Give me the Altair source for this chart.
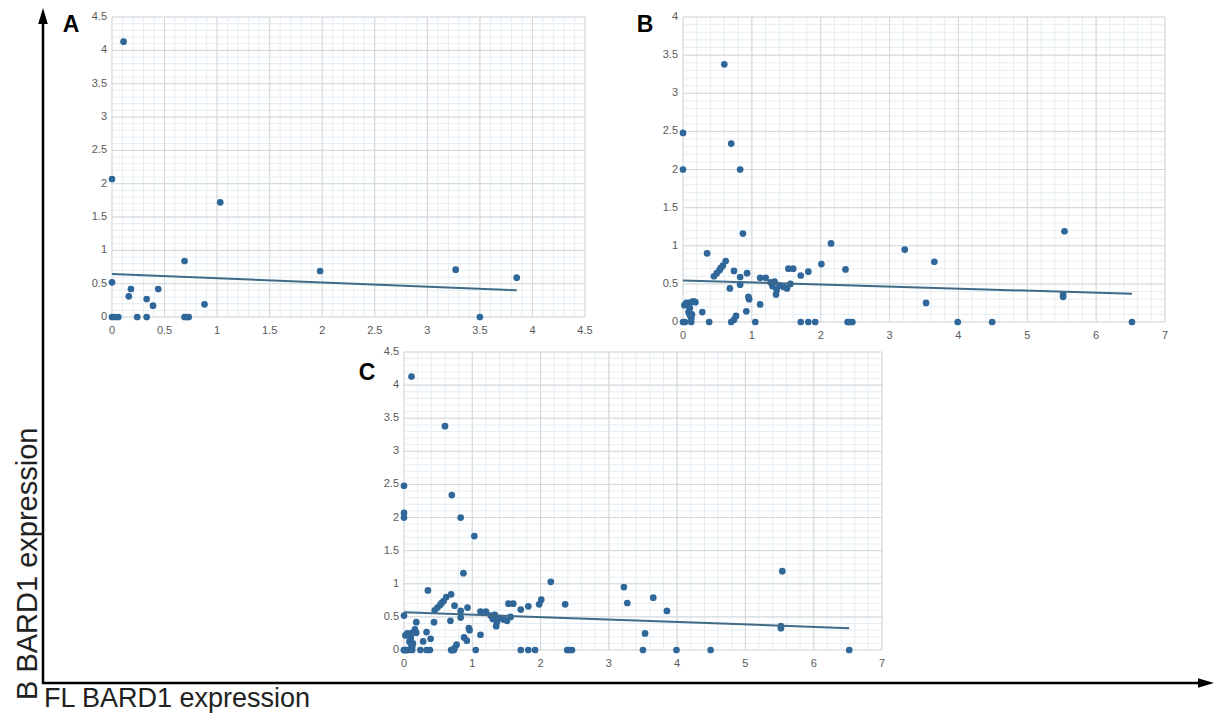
import altair as alt
import pandas as pd

# ---------------- data ----------------
# Panel A
a_fl = [0.00, 0.03, 0.06, 0.11, 0.00, 0.00, 1.03, 0.69, 0.16, 0.18, 0.24, 0.33,
        0.33, 0.39, 0.44, 0.69, 0.71, 0.73, 0.88, 1.98, 3.27, 3.50, 3.85]
a_b = [0.00, 0.00, 0.00, 4.13, 2.07, 0.52, 1.72, 0.84, 0.31, 0.42, 0.00, 0.27,
       0.00, 0.17, 0.42, 0.00, 0.00, 0.00, 0.19, 0.69, 0.71, 0.00, 0.59]

# Panel B
b_fl = [0.00, 0.00, 0.60, 0.70, 0.83, 0.87, 0.35, 2.15, 3.22, 3.65, 5.54, 5.52,
        5.52, 3.53, 2.01, 2.36, 1.82, 1.71, 1.53, 1.60, 1.56, 1.51, 1.12, 1.20,
        1.27, 1.30, 1.33, 1.36, 1.35, 1.40, 1.46, 1.12, 0.95, 0.96, 0.92, 0.93,
        0.83, 0.83, 0.74, 0.68, 0.45, 0.49, 0.53, 0.55, 0.58, 0.62, 0.77, 0.74,
        0.28, 0.02, 0.05, 0.08, 0.10, 0.12, 0.15, 0.18, 0.13, 0.12, 0.08, 0.10,
        0.00, 0.03, 0.12, 0.38, 0.70, 1.05, 1.71, 1.82, 1.92, 2.39, 2.42, 2.46,
        3.99, 4.49, 6.52]
b_b = [2.48, 2.00, 3.38, 2.34, 2.00, 1.16, 0.90, 1.03, 0.95, 0.79, 1.19, 0.33,
       0.36, 0.25, 0.76, 0.69, 0.66, 0.61, 0.70, 0.70, 0.50, 0.44, 0.58, 0.58,
       0.52, 0.47, 0.53, 0.42, 0.36, 0.48, 0.46, 0.23, 0.33, 0.30, 0.14, 0.64,
       0.59, 0.49, 0.67, 0.44, 0.60, 0.64, 0.68, 0.71, 0.74, 0.80, 0.08, 0.03,
       0.13, 0.22, 0.25, 0.22, 0.18, 0.26, 0.27, 0.26, 0.10, 0.05, 0.13, 0.09,
       0.00, 0.00, 0.00, 0.00, 0.00, 0.00, 0.00, 0.00, 0.00, 0.00, 0.00, 0.00,
       0.00, 0.00, 0.00]

# Panel C = A and B together
c_fl = a_fl + b_fl
c_b = a_b + b_b

# trend lines (end points)
trend_a_fl, trend_a_b = [0.0, 3.85], [0.645, 0.40]
trend_b_fl, trend_b_b = [0.0, 6.52], [0.545, 0.37]
trend_c_fl, trend_c_b = [0.0, 6.52], [0.57, 0.33]

# tick labels
a_x_ticks = [0, 0.5, 1, 1.5, 2, 2.5, 3, 3.5, 4, 4.5]
a_y_ticks = [0, 0.5, 1, 1.5, 2, 2.5, 3, 3.5, 4, 4.5]
b_x_ticks = [0, 1, 2, 3, 4, 5, 6, 7]
b_y_ticks = [0, 0.5, 1, 1.5, 2, 2.5, 3, 3.5, 4]
c_x_ticks = [0, 1, 2, 3, 4, 5, 6, 7]
c_y_ticks = [0, 0.5, 1, 1.5, 2, 2.5, 3, 3.5, 4, 4.5]

x_title = "FL BARD1 expression"
y_title = "B BARD1 expression"

# ---------------- layout & style ----------------
W, H = 1217, 713
FONT = "Liberation Sans"
PT = "#2f6799"
TREND = "#3f6b88"
MAJOR = "#d4d8db"
MINOR = "#e6eef3"
LABEL = "#595959"

# pixel extents of each plot area: (x range, y range)
GEOM = {
    "A": ([112, 585], [317, 17]),
    "B": ([683, 1165], [322, 17]),
    "C": ([404, 882], [650, 352]),
}
LETTER_POS = {"A": (71, 25), "B": (645, 25), "C": (367, 373)}

one = pd.DataFrame({"k": [0]})


def steps(lo, hi, step):
    n = int(round((hi - lo) / step))
    return [round(lo + i * step, 3) for i in range(n + 1)]


def panel(name, fl, b, tfl, tb, xt, yt, xstep, ystep):
    xr, yr = GEOM[name]
    pts = pd.DataFrame({"fl": fl, "b": b})
    tr = pd.DataFrame({"fl": tfl, "b": tb})
    xs = alt.Scale(domain=[xt[0], xt[-1]], range=xr, nice=False, zero=False)
    ys = alt.Scale(domain=[yt[0], yt[-1]], range=yr, nice=False, zero=False)

    def vgrid(vals, color):
        return alt.Chart(pd.DataFrame({"v": vals})).mark_rule(
            color=color, strokeWidth=1).encode(
            x=alt.X("v:Q", scale=xs, axis=None),
            y=alt.value(yr[1]), y2=alt.value(yr[0]))

    def hgrid(vals, color):
        return alt.Chart(pd.DataFrame({"v": vals})).mark_rule(
            color=color, strokeWidth=1).encode(
            y=alt.Y("v:Q", scale=ys, axis=None),
            x=alt.value(xr[0]), x2=alt.value(xr[1]))

    xlab = alt.Chart(pd.DataFrame({"v": xt})).mark_text(
        font=FONT, fontSize=11, color=LABEL, align="center", baseline="top"
    ).encode(
        x=alt.X("v:Q", scale=xs, axis=None),
        y=alt.value(yr[0] + 8),
        text=alt.Text("v:Q", format="~g"),
    )
    ylab = alt.Chart(pd.DataFrame({"v": yt})).mark_text(
        font=FONT, fontSize=11, color=LABEL, align="right", baseline="middle"
    ).encode(
        y=alt.Y("v:Q", scale=ys, axis=None),
        x=alt.value(xr[0] - 5),
        text=alt.Text("v:Q", format="~g"),
    )
    dots = alt.Chart(pts).mark_circle(size=45, color=PT, opacity=1).encode(
        x=alt.X("fl:Q", scale=xs, axis=None),
        y=alt.Y("b:Q", scale=ys, axis=None),
    )
    line = alt.Chart(tr).mark_line(color=TREND, strokeWidth=2).encode(
        x=alt.X("fl:Q", scale=xs, axis=None),
        y=alt.Y("b:Q", scale=ys, axis=None),
    )
    lx, ly = LETTER_POS[name]
    letter = alt.Chart(one).mark_text(
        text=name, font=FONT, fontSize=23, fontWeight="bold", color="black",
        align="center", baseline="middle"
    ).encode(x=alt.value(lx), y=alt.value(ly))
    return alt.layer(
        vgrid(steps(xt[0], xt[-1], xstep), MINOR),
        hgrid(steps(yt[0], yt[-1], ystep), MINOR),
        vgrid(xt, MAJOR),
        hgrid(yt, MAJOR),
        xlab, ylab, dots, line, letter,
    )


A = panel("A", a_fl, a_b, trend_a_fl, trend_a_b, a_x_ticks, a_y_ticks, 0.1, 0.1)
B = panel("B", b_fl, b_b, trend_b_fl, trend_b_b, b_x_ticks, b_y_ticks, 0.2, 0.1)
C = panel("C", c_fl, c_b, trend_c_fl, trend_c_b, c_x_ticks, c_y_ticks, 0.2, 0.1)

# outer arrows and titles
axis_v = alt.Chart(one).mark_rule(color="black", strokeWidth=2.5).encode(
    x=alt.value(43), y=alt.value(16), y2=alt.value(684))
axis_h = alt.Chart(one).mark_rule(color="black", strokeWidth=2.5).encode(
    x=alt.value(42), x2=alt.value(1202), y=alt.value(683))
head_up = alt.Chart(one).mark_point(
    shape="M0,-1L0.6,1L-0.6,1Z", filled=True, color="black", opacity=1, size=256
).encode(x=alt.value(43), y=alt.value(16))
head_right = alt.Chart(one).mark_point(
    shape="M1,0L-1,0.6L-1,-0.6Z", filled=True, color="black", opacity=1, size=256
).encode(x=alt.value(1206), y=alt.value(683))
xt_text = alt.Chart(one).mark_text(
    text=x_title, font=FONT, fontSize=27, color="#222222", align="left",
    baseline="alphabetic"
).encode(x=alt.value(44), y=alt.value(707))
yt_text = alt.Chart(one).mark_text(
    text=y_title, font=FONT, fontSize=29, color="#222222", align="left",
    baseline="alphabetic", angle=270
).encode(x=alt.value(37), y=alt.value(700))

chart = alt.layer(
    A, B, C, axis_v, axis_h, head_up, head_right, xt_text, yt_text
).resolve_scale(x="independent", y="independent").properties(
    width=W, height=H, padding=0, background="white",
    autosize=alt.AutoSizeParams(type="none")
).configure_view(strokeWidth=0)

chart.save("out.html", embed_options={"renderer": "svg", "actions": False})
